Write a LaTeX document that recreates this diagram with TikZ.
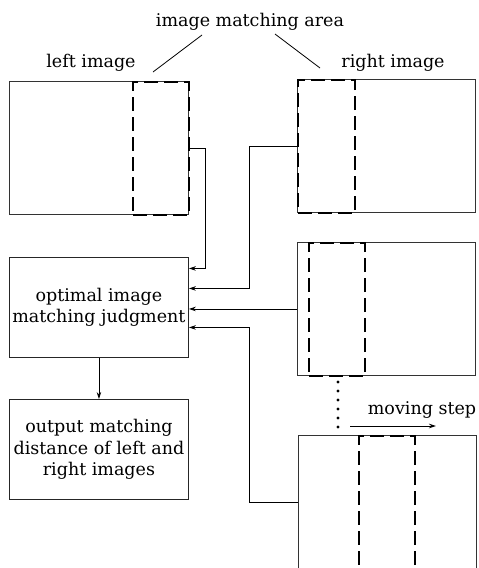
\documentclass[tikz,border=0pt]{standalone}
\usepackage{fontspec}
\setmainfont{DejaVu Serif}
\usetikzlibrary{arrows.meta}
\begin{document}
\begin{tikzpicture}[x=1pt,y=-1pt,
  txt/.style={font=\fontsize{17.5}{21}\selectfont, inner sep=0pt},
  imgbox/.style={draw=black!80, line width=0.9pt, anchor=north west, inner sep=0pt},
  stepbox/.style={draw=black!85, line width=0.9pt, anchor=north west, minimum width=179pt,
    minimum height=100pt, align=center, font=\fontsize{17.5}{21.5}\selectfont, inner sep=0pt},
  winbox/.style={draw=black, line width=2pt, dash pattern=on 14pt off 6pt, anchor=north west, inner sep=0pt},
  arr/.style={line width=0.8pt, -{Stealth[length=7pt,width=4.5pt]}},
  lead/.style={line width=0.8pt}]
\useasboundingbox (0,0) rectangle (479,568);

% image frames
\node[imgbox, minimum width=179pt, minimum height=133pt] (L)  at (9,81)   {};
\node[imgbox, minimum width=178pt, minimum height=133pt] (R1) at (297,79)  {};
\node[imgbox, minimum width=178pt, minimum height=133pt] (R2) at (297,242) {};
\node[imgbox, minimum width=178pt, minimum height=133pt] (R3) at (298,435) {};

% matching windows
\node[winbox, minimum width=56pt, minimum height=133pt] (LD)  at (132,81)  {};
\node[winbox, minimum width=57pt, minimum height=133pt] (R1D) at (297,79)  {};
\node[winbox, minimum width=56pt, minimum height=133pt] (R2D) at (308,242) {};
\node[winbox, minimum width=56pt, minimum height=133pt] (R3D) at (358,435) {};

% processing steps
\node[stepbox] (J) at (9,257) {optimal image\\matching judgment};
\node[stepbox] (O) at (9,399) {output matching\\distance of left and\\right images};

% labels
\node[txt] (title) at (250,22) {image matching area};
\node[txt] (lt) at (91,63) {left image};
\node[txt] (rt) at (393,63) {right image};
\node[txt] (ms) at (422,410) {moving step};

% leader lines from the title
\coordinate (t1) at (202,35);
\coordinate (t2) at (153,72);
\coordinate (t3) at (275,34);
\coordinate (t4) at (320,68);
\draw[lead] (t1) -- (t2);
\draw[lead] (t3) -- (t4);

% connectors into the judgment step
\draw[arr] (L.east) -- ++(16,0) |- ([yshift=39pt]J.east);
\draw[arr] (R1.west) -- ++(-48,0) |- ([yshift=19pt]J.east);
\draw[arr] (R2.west) -- (R2.west -| J.east);
\draw[arr] (R3.west) -- ++(-49,0) |- ([yshift=-20pt]J.east);
\draw[arr] (J.south) -- (O.north);

% window shift
\foreach \k in {0,...,5}
  \fill (338,382+9*\k) circle (1.6pt);
\coordinate (m1) at (350,426);
\coordinate (m2) at (436,426);
\draw[arr] (m1) -- (m2);
\end{tikzpicture}
\end{document}
